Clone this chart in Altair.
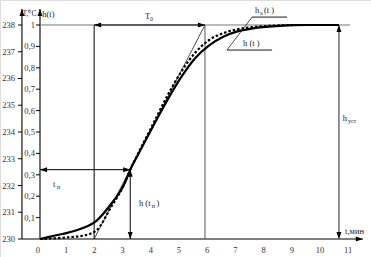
import altair as alt
import pandas as pd

# ---- data ----
t_solid = [0, 0.5, 1, 1.5, 2, 2.5, 3, 3.2, 3.5, 4, 4.5, 5, 5.5, 6, 6.5, 7, 7.5, 8, 8.5, 9, 9.5, 10, 10.6]
h_solid = [0, 0.015, 0.03, 0.05, 0.085, 0.16, 0.26, 0.324, 0.40, 0.525, 0.645, 0.755, 0.845, 0.905, 0.945, 0.97, 0.983, 0.991, 0.996, 0.999, 1, 1, 1]
t_dash = [0, 0.5, 1, 1.5, 2, 2.5, 3, 3.2, 3.5, 4, 4.5, 5, 5.5, 6, 6.5, 7, 7.5, 8, 8.5, 9, 9.5, 10.2]
h_dash = [0, 0.003, 0.008, 0.015, 0.04, 0.145, 0.26, 0.324, 0.405, 0.535, 0.665, 0.78, 0.87, 0.93, 0.962, 0.98, 0.99, 0.995, 0.998, 1, 1, 1]

x_ticks = list(range(0, 12))
T_ticks = list(range(230, 239))
h_ticks = [0.1, 0.2, 0.3, 0.4, 0.5, 0.6, 0.7, 0.8, 0.9, 1.0]
h_tick_labels = ["0,1", "0,2", "0,3", "0,4", "0,5", "0,6", "0,7", "0,8", "0,9", "1"]

t_start, t0_end = 1.92, 5.85      # tangent intersections
t_n, h_tn = 3.2, 0.324
t_ust = 10.6
T_axis_t = -0.64
axis_top = 1.075
x_axis_end = 11.45

# segments: x, y, x2, y2, colour, width
seg_x  = [T_axis_t, 0, T_axis_t, t_start, t_start, t0_end, 0, t_start, 0, t_n, t_ust, 7.52, 7.52, 6.63]
seg_y  = [0, 0, 0, 0, 0, 0, 1, 1, h_tn, 0, 0, 1.037, 1.037, 0.883]
seg_x2 = [T_axis_t, 0, x_axis_end, t0_end, t_start, t0_end, 11.0, t0_end, t_n, t_n, t_ust, 6.63, 8.76, 8.23]
seg_y2 = [axis_top, axis_top, 0, 1, 1, 1, 1, 1, h_tn, h_tn, 1, 0.883, 1.037, 0.883]
seg_c  = ["#000", "#000", "#000", "#000", "#000", "#555", "#777", "#000", "#000", "#000", "#777", "#000", "#000", "#000"]
seg_w  = [1.1, 1.1, 1.1, 0.7, 1.0, 1.0, 1.0, 1.0, 1.0, 1.0, 1.6, 0.7, 0.9, 0.9]

# arrowheads
arr_x = [T_axis_t, 0, x_axis_end, t_start, t0_end, 0, t_n, t_n, t_n, t_ust, t_ust]
arr_y = [axis_top, axis_top, 0, 1, 1, h_tn, h_tn, h_tn, 0, 1, 0]
arr_d = ["up", "up", "right", "left", "right", "left", "right", "up", "down", "up", "down"]

# texts
txt_x = [0.08, 3.72, 0.46, 3.51, 4.13, 10.74, 7.62, 7.94, 7.20, 10.82]
txt_y = [1.052, 1.042, 0.257, 0.168, 0.168, 0.565, 1.070, 1.070, 0.916, 0.037]
txt_s = ["h(t)", "T", "t", "h (t", ")", "h", "h", "(t  )", "h (t  )", "t,мин"]
unit_x = [-0.62]
unit_y = [1.05]
unit_s = ["T,⁰C"]
sub_x = [3.90, 0.60, 3.96, 10.92, 7.80]
sub_y = [1.028, 0.243, 0.154, 0.551, 1.056]
sub_s = ["0", "п", "п", "уст", "а"]

# ---- tables ----
curve_s = pd.DataFrame({"t": t_solid, "h": h_solid})
curve_d = pd.DataFrame({"t": t_dash, "h": h_dash})
segs = pd.DataFrame({"x": seg_x, "y": seg_y, "x2": seg_x2, "y2": seg_y2, "c": seg_c, "w": seg_w})
arrows = pd.DataFrame({"x": arr_x, "y": arr_y, "d": arr_d})
texts = pd.DataFrame({"x": txt_x, "y": txt_y, "s": txt_s})
units = pd.DataFrame({"x": unit_x, "y": unit_y, "s": unit_s})
subs = pd.DataFrame({"x": sub_x, "y": sub_y, "s": sub_s})
xlab = pd.DataFrame({"x": x_ticks, "y": [0] * len(x_ticks), "s": [str(v) for v in x_ticks]})
Tlab = pd.DataFrame({"x": [-0.887] * len(T_ticks), "y": [(v - 230) / 8 for v in T_ticks], "s": [str(v) for v in T_ticks]})
hlab = pd.DataFrame({"x": [-0.18] * len(h_ticks), "y": h_ticks, "s": h_tick_labels})
ticks = pd.DataFrame({
    "x": [-0.78] * len(T_ticks) + [-0.142] * len(h_ticks),
    "x2": [T_axis_t] * len(T_ticks) + [0] * len(h_ticks),
    "y": [(v - 230) / 8 for v in T_ticks] + h_ticks,
})

xs = alt.Scale(domain=[-1.4184, 11.7376], nice=False, zero=False)
ys = alt.Scale(domain=[-0.08411, 1.11682], nice=False, zero=False)
X = lambda f="x": alt.X(f + ":Q", scale=xs, axis=None)
Y = lambda f="y": alt.Y(f + ":Q", scale=ys, axis=None)
FONT = "Liberation Serif"

rules = alt.Chart(segs).mark_rule().encode(
    x=X(), y=Y(), x2="x2", y2="y2",
    color=alt.Color("c:N", scale=None), strokeWidth=alt.StrokeWidth("w:Q", scale=None))

tick_rules = alt.Chart(ticks).mark_rule(color="#000", strokeWidth=1).encode(x=X(), x2="x2", y=Y())

paths = {
    "up": "M0,0L-0.35,1L0.35,1Z",
    "down": "M0,0L-0.35,-1L0.35,-1Z",
    "left": "M0,0L1,-0.35L1,0.35Z",
    "right": "M0,0L-1,-0.35L-1,0.35Z",
}
heads = alt.Chart(arrows).mark_point(filled=True, color="#000", opacity=1, size=200).encode(
    x=X(), y=Y(),
    shape=alt.Shape("d:N", scale=alt.Scale(domain=list(paths.keys()), range=list(paths.values())), legend=None))

solid = alt.Chart(curve_s).mark_line(color="#000", strokeWidth=2.2, interpolate="monotone").encode(x=X("t"), y=Y("h"))
dashed = alt.Chart(curve_d).mark_line(color="#000", strokeWidth=2.2, strokeDash=[2.5, 2], interpolate="monotone").encode(x=X("t"), y=Y("h"))

txt = alt.Chart(texts).mark_text(font=FONT, fontSize=8.5, align="left", baseline="middle", color="#222").encode(
    x=X(), y=Y(), text="s:N")
unit = alt.Chart(units).mark_text(font=FONT, fontSize=7.5, align="left", baseline="middle", color="#222").encode(
    x=X(), y=Y(), text="s:N")
sub = alt.Chart(subs).mark_text(font=FONT, fontSize=6, align="left", baseline="middle", color="#222").encode(
    x=X(), y=Y(), text="s:N")
xl = alt.Chart(xlab).mark_text(font=FONT, fontSize=8.5, align="center", baseline="middle", dy=11, dx=-2, color="#333").encode(
    x=X(), y=Y(), text="s:N")
Tl = alt.Chart(Tlab).mark_text(font=FONT, fontSize=8.5, align="right", baseline="middle", color="#333").encode(
    x=X(), y=Y(), text="s:N")
hl = alt.Chart(hlab).mark_text(font=FONT, fontSize=8.5, align="right", baseline="middle", color="#333").encode(
    x=X(), y=Y(), text="s:N")

chart = alt.layer(rules, tick_rules, solid, dashed, heads, txt, unit, sub, xl, Tl, hl).properties(
    width=371, height=257, autosize=alt.AutoSizeParams(type="none"), padding=0,
).configure_view(stroke=None).configure(background="white")

chart.save("out.html", embed_options={"renderer": "svg", "actions": False})
